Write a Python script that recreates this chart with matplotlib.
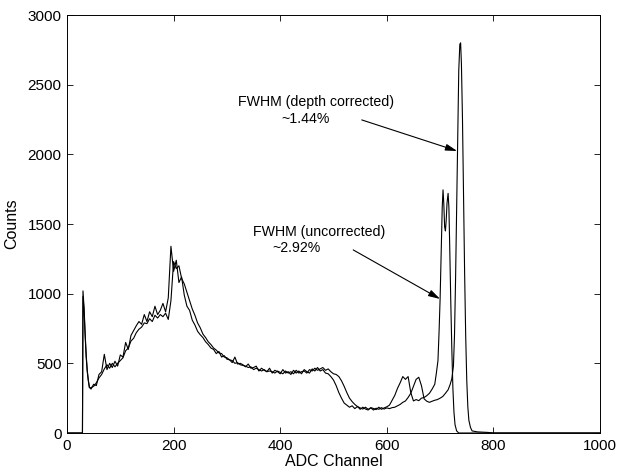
import numpy as np
import matplotlib
matplotlib.use("Agg")
import matplotlib.pyplot as plt

plt.rcParams['font.family'] = ['Liberation Sans', 'DejaVu Sans']

# left edge (threshold spike), shared shape for both spectra
edge_ch = [0, 29, 30, 32, 34, 36, 38, 40, 42]
edge_unc = [0, 0, 1020, 900, 720, 560, 450, 380, 330]
edge_cor = [0, 0, 980, 880, 700, 545, 440, 375, 325]

# noisy body, channels 45..690 every 5
body_ch = np.arange(45, 695, 5)
body_unc = [315, 350, 340, 420, 440, 565, 455, 500, 470, 515,
            480, 560, 545, 650, 600, 700, 735, 770, 800, 780,
            850, 800, 870, 835, 910, 850, 880, 930, 870, 970,
            1340, 1160, 1240, 1080, 1120, 990, 910, 880, 810, 775,
            730, 705, 685, 655, 635, 610, 600, 570, 585, 545,
            555, 530, 525, 505, 545, 495, 500, 490, 475, 495,
            465, 470, 480, 445, 465, 450, 440, 465, 430, 450,
            440, 425, 455, 430, 440, 420, 450, 430, 445, 425,
            455, 440, 430, 460, 445, 470, 445, 455, 430, 425,
            405, 380, 340, 290, 250, 215, 200, 185, 195, 175,
            190, 170, 185, 172, 165, 182, 176, 168, 185, 170,
            180, 188, 200, 235, 270, 320, 360, 405, 385, 405,
            290, 230, 240, 232, 250, 255, 268, 285, 315, 350]
body_cor = [325, 335, 360, 395, 420, 460, 490, 465, 500, 475,
            500, 520, 540, 590, 610, 660, 680, 720, 745, 760,
            790, 785, 820, 800, 845, 825, 850, 835, 860, 815,
            950, 1230, 1180, 1200, 1110, 1070, 1010, 950, 890, 845,
            790, 755, 710, 685, 655, 635, 610, 595, 575, 570,
            545, 540, 525, 520, 500, 505, 490, 485, 480, 470,
            475, 455, 465, 455, 445, 455, 440, 445, 440, 430,
            445, 435, 425, 445, 430, 440, 425, 450, 430, 440,
            445, 430, 455, 445, 465, 450, 460, 470, 450, 460,
            440, 425, 420, 405, 375, 335, 290, 250, 225, 205,
            190, 180, 172, 185, 170, 180, 165, 178, 170, 182,
            172, 180, 175, 182, 185, 195, 205, 220, 230, 255,
            285, 335, 385, 400, 340, 245, 228, 220, 228, 235]

# photopeaks
peak_unc_ch = [693, 696, 698, 700, 702, 704, 705.5, 707, 708.5, 710, 711.5,
               713, 715, 716.5, 718, 720, 722, 724, 726, 728, 731, 735, 1000]
peak_unc = [430, 520, 720, 960, 1300, 1620, 1745, 1640, 1480, 1450, 1530,
            1650, 1720, 1620, 1350, 950, 600, 320, 150, 60, 15, 0, 0]
peak_cor_ch = [695, 700, 705, 710, 715, 719, 722, 725, 727, 729, 731, 733,
               735, 737, 738.5, 740, 742, 744, 746, 748, 750, 752, 754, 757,
               760, 770, 790, 800, 1000]
peak_cor = [240, 250, 262, 285, 310, 350, 390, 480, 700, 1100, 1600, 2150,
            2600, 2790, 2800, 2650, 2250, 1700, 1150, 700, 380, 190, 90, 40,
            15, 8, 4, 0, 0]

ch_unc = np.concatenate([edge_ch, body_ch, peak_unc_ch])
cnt_unc = np.concatenate([edge_unc, body_unc, peak_unc])
ch_cor = np.concatenate([edge_ch, body_ch, peak_cor_ch])
cnt_cor = np.concatenate([edge_cor, body_cor, peak_cor])

fig = plt.figure(figsize=(6.2, 4.73), dpi=100)
ax = fig.add_axes([67 / 620, 1 - 433 / 473, 533 / 620, 418 / 473])

ax.plot(ch_unc, cnt_unc, color='k', lw=0.8)
ax.plot(ch_cor, cnt_cor, color='k', lw=0.8)

ax.set_xlim(0, 1000)
ax.set_ylim(0, 3000)
ax.set_xticks(range(0, 1001, 200))
ax.set_yticks(range(0, 3001, 500))
ax.tick_params(direction='in', top=True, right=True, length=4, width=0.6,
               labelsize=11, pad=4)
for s in ax.spines.values():
    s.set_linewidth(0.7)
ax.set_xlabel('ADC Channel', fontsize=11.5, labelpad=1)
ax.set_ylabel('Counts', fontsize=11.5, labelpad=6)

# annotations
ax.text(321, 2376, 'FWHM (depth corrected)', fontsize=10.2, va='center')
ax.text(403, 2254, '~1.44%', fontsize=10.2, va='center')
ax.text(349, 1443, 'FWHM (uncorrected)', fontsize=10.2, va='center')
ax.text(385, 1328, '~2.92%', fontsize=10.2, va='center')

arrow = dict(arrowstyle='-|>,head_length=0.7,head_width=0.2', color='k',
             lw=0.8, shrinkA=0, shrinkB=0)
ax.annotate('', xy=(732, 2024), xytext=(553, 2247), arrowprops=arrow)
ax.annotate('', xy=(700, 962), xytext=(537, 1314), arrowprops=arrow)

fig.savefig('out.png', dpi=100)
